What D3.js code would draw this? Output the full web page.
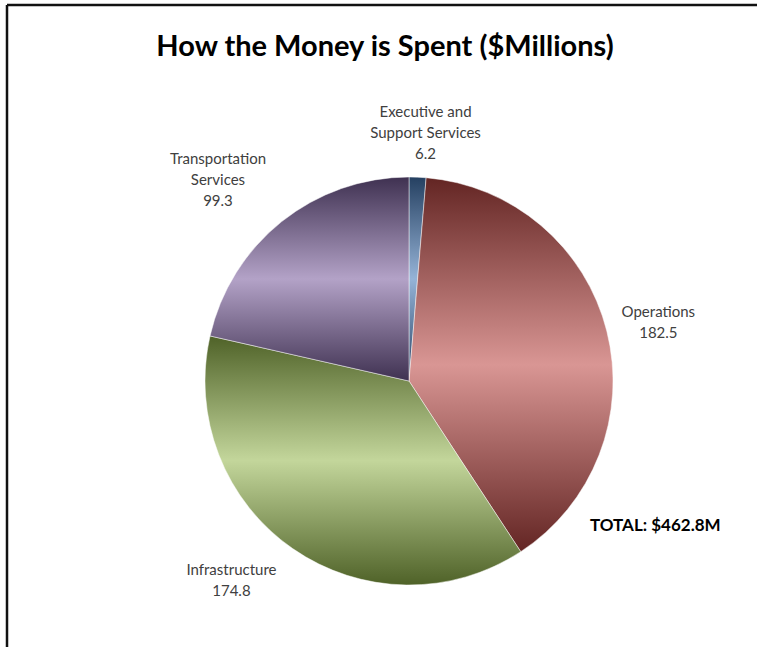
<!DOCTYPE html>
<html>
<head>
<meta charset="utf-8">
<script src="https://cdnjs.cloudflare.com/ajax/libs/d3/7.8.5/d3.min.js"></script>
<style>
	body { margin: 0; background: #fff; }
	svg text { font-family: Lato, "Open Sans", sans-serif; }
</style>
</head>
<body>
<svg id="chart" width="757" height="647"></svg>
<script>
var categories = [ "Executive and Support Services", "Operations", "Infrastructure", "Transportation Services" ];
var values = [ 6.2, 182.5, 174.8, 99.3 ];
var darkColors = [ "#254061", "#632523", "#4f6228", "#3f3151" ];
var lightColors = [ "#95b3d7", "#d99694", "#c3d69b", "#b3a2c7" ];
var titleText = "How the Money is Spent ($Millions)";
var totalText = "TOTAL: $462.8M";

// label nudges in px, Excel "best fit" does not sit exactly on the mid angle
var labelNudge = [ [ 6, 2 ], [ 7, 3 ], [ -35, -6 ], [ -35, -6 ] ];

var svg = d3.select("#chart");
var cx = 409, cy = 381, radius = 204;

// frame (top and left edges only are visible)
svg.append("line").attr("x1", 7).attr("y1", 5).attr("x2", 757).attr("y2", 5)
	.style("stroke", "#111").style("stroke-width", 2.5);
svg.append("line").attr("x1", 7).attr("y1", 5).attr("x2", 7).attr("y2", 647)
	.style("stroke", "#111").style("stroke-width", 2.5);

svg.append("text")
	.attr("x", 385).attr("y", 56)
	.attr("text-anchor", "middle")
	.style("font-size", "29px").style("font-weight", "bold").style("fill", "#000")
	.text(titleText);

var defs = svg.append("defs");
categories.forEach(function(c, i) {
	var grad = defs.append("linearGradient").attr("id", "grad" + i)
		.attr("x1", 0).attr("y1", 0).attr("x2", 0).attr("y2", 1);
	grad.append("stop").attr("offset", "0%").attr("stop-color", darkColors[i]);
	grad.append("stop").attr("offset", "50%").attr("stop-color", lightColors[i]);
	grad.append("stop").attr("offset", "100%").attr("stop-color", darkColors[i]);
});

var pie = d3.pie().sort(null).value(function(d) { return d; });
var arcs = pie(values);
var arc = d3.arc().innerRadius(0).outerRadius(radius);
var labelArc = d3.arc().innerRadius(250).outerRadius(250);

var g = svg.append("g").attr("transform", "translate(" + cx + "," + cy + ")");

g.selectAll(".slice").data(arcs).enter().append("path")
	.attr("class", "slice")
	.attr("d", arc)
	.style("fill", function(d, i) { return "url(#grad" + i + ")"; })
	.style("stroke", "#fff")
	.style("stroke-opacity", 0.6)
	.style("stroke-width", 0.8);

function wrapLines(text, maxWidth, measure) {
	var words = text.split(" "), lines = [], line = "";
	words.forEach(function(w) {
		var test = line ? line + " " + w : w;
		measure.text(test);
		if (line && measure.node().getComputedTextLength() > maxWidth) {
			lines.push(line);
			line = w;
		} else {
			line = test;
		}
	});
	lines.push(line);
	return lines;
}

var measure = svg.append("text").style("font-size", "15px").style("visibility", "hidden");

var labels = g.selectAll(".label").data(arcs).enter().append("text")
	.attr("class", "label")
	.attr("text-anchor", "middle")
	.style("font-size", "15px")
	.style("fill", "#404040")
	.each(function(d, i) {
		var lines = wrapLines(categories[i], 125, measure);
		lines.push(String(values[i]));
		var c = labelArc.centroid(d);
		var x = c[0] + labelNudge[i][0];
		var y = c[1] + labelNudge[i][1] - (lines.length - 1) * 21 / 2 + 5;
		var t = d3.select(this);
		lines.forEach(function(l, k) {
			t.append("tspan").attr("x", x).attr("y", y + k * 21).text(l);
		});
	});
measure.remove();

svg.append("text")
	.attr("x", 590).attr("y", 531)
	.style("font-size", "17px").style("font-weight", "bold").style("fill", "#000")
	.text(totalText);
</script>
</body>
</html>
